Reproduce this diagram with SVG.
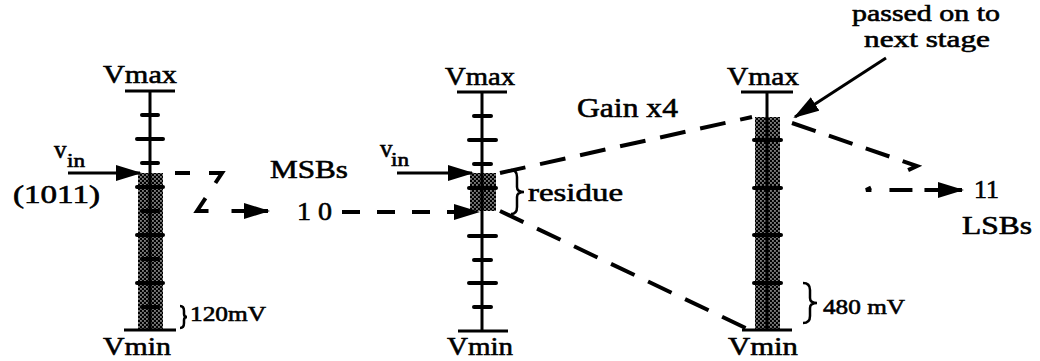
<svg xmlns="http://www.w3.org/2000/svg" width="1040" height="361" viewBox="0 0 1040 361">
<defs>
<pattern id="stip" width="4" height="4" patternUnits="userSpaceOnUse">
<rect width="4" height="4" fill="#000"/>
<rect x="0.3" y="0.3" width="1.3" height="1.3" fill="#fff"/>
<rect x="2.3" y="2.3" width="1.3" height="1.3" fill="#fff"/>
</pattern>
<marker id="ah" viewBox="0 0 26 16" refX="24" refY="8" markerWidth="26" markerHeight="16" markerUnits="userSpaceOnUse" orient="auto"><path d="M0,0 L26,8 L0,16 Z" fill="#000"/></marker>
</defs>
<style>
.ax{stroke:#000;stroke-width:3;fill:none}
.tk{stroke:#000;stroke-width:4;stroke-linecap:round}
.bar{stroke:#000;stroke-width:3}
.t{font-family:"Liberation Serif","Times New Roman",serif;fill:#000;stroke:#000;stroke-width:0.6;font-size:26px}
.dash{stroke:#000;stroke-width:4;fill:none}
.arr{stroke:#000;stroke-width:3;fill:none}
.br{stroke:#000;stroke-width:2.5;fill:none}
</style>
<rect width="1040" height="361" fill="#fff"/>

<g id="scale1">
<rect x="138" y="173" width="25" height="157" fill="url(#stip)"/>
<line class="ax" x1="150" y1="91" x2="150" y2="330"/>
<line class="bar" x1="125" y1="91" x2="175" y2="91"/>
<line class="bar" x1="124" y1="330" x2="176" y2="330"/>
<line class="tk" x1="142" y1="115" x2="158" y2="115"/>
<line class="tk" x1="137" y1="139" x2="163" y2="139"/>
<line class="tk" x1="142" y1="163" x2="158" y2="163"/>
<line class="tk" x1="137" y1="187" x2="163" y2="187"/>
<line class="tk" x1="142" y1="211" x2="158" y2="211"/>
<line class="tk" x1="137" y1="235" x2="163" y2="235"/>
<line class="tk" x1="142" y1="259" x2="158" y2="259"/>
<line class="tk" x1="137" y1="283" x2="163" y2="283"/>
<line class="tk" x1="142" y1="307" x2="158" y2="307"/>
<text class="t" x="103" y="83" textLength="74" lengthAdjust="spacingAndGlyphs">Vmax</text>
<text class="t" x="103" y="355" textLength="68" lengthAdjust="spacingAndGlyphs">Vmin</text>
<path class="br" d="M180,306 Q184,306 184,311 L184,314 Q184,317 187,317 Q184,317 184,320 L184,323 Q184,328 180,328"/>
<text class="t" x="190" y="321" style="font-size:21px" textLength="76" lengthAdjust="spacingAndGlyphs">120mV</text>
</g>

<g id="input1">
<line class="arr" x1="68" y1="173" x2="140" y2="173" marker-end="url(#ah)"/>
<text class="t" x="54" y="158" style="font-size:25px">v</text>
<text class="t" x="67" y="167" style="font-size:19px" textLength="18" lengthAdjust="spacingAndGlyphs">in</text>
<text class="t" x="13" y="203" textLength="87" lengthAdjust="spacingAndGlyphs">(1011)</text>
</g>

<g id="msbs">
<text class="t" x="270" y="178" textLength="78" lengthAdjust="spacingAndGlyphs">MSBs</text>
<text class="t" x="297" y="220" textLength="35" lengthAdjust="spacingAndGlyphs">1 0</text>
</g>

<g id="scale2">
<rect x="470" y="173" width="26" height="38" fill="url(#stip)"/>
<line class="ax" x1="482" y1="92" x2="482" y2="331"/>
<line class="bar" x1="457" y1="92" x2="507" y2="92"/>
<line class="bar" x1="458" y1="331" x2="508" y2="331"/>
<line class="tk" x1="474" y1="116" x2="491" y2="116"/>
<line class="tk" x1="469" y1="140" x2="496" y2="140"/>
<line class="tk" x1="474" y1="164" x2="491" y2="164"/>
<line class="tk" x1="469" y1="188" x2="496" y2="188"/>
<line class="tk" x1="469" y1="236" x2="496" y2="236"/>
<line class="tk" x1="474" y1="260" x2="491" y2="260"/>
<line class="tk" x1="469" y1="283" x2="496" y2="283"/>
<line class="tk" x1="474" y1="307" x2="491" y2="307"/>
<text class="t" x="445" y="85" textLength="70" lengthAdjust="spacingAndGlyphs">Vmax</text>
<text class="t" x="447" y="355" textLength="66" lengthAdjust="spacingAndGlyphs">Vmin</text>
<path class="br" d="M511,170 Q517,170 517,177 L517,187 Q517,192 524,192 Q517,192 517,197 L517,207 Q517,214 511,214"/>
<text class="t" x="528" y="201" textLength="95" lengthAdjust="spacingAndGlyphs">residue</text>
</g>

<g id="input2">
<line class="arr" x1="397" y1="173" x2="472" y2="173" marker-end="url(#ah)"/>
<text class="t" x="380" y="157" style="font-size:25px">v</text>
<text class="t" x="391" y="166" style="font-size:19px" textLength="18" lengthAdjust="spacingAndGlyphs">in</text>
</g>

<g id="scale3">
<rect x="755" y="117" width="25" height="213" fill="url(#stip)"/>
<line class="ax" x1="767" y1="92" x2="767" y2="330"/>
<line class="bar" x1="741" y1="92" x2="793" y2="92"/>
<line class="bar" x1="742" y1="330" x2="792" y2="330"/>
<line class="tk" x1="754" y1="140" x2="781" y2="140"/>
<line class="tk" x1="754" y1="188" x2="781" y2="188"/>
<line class="tk" x1="754" y1="235" x2="781" y2="235"/>
<line class="tk" x1="754" y1="283" x2="781" y2="283"/>
<text class="t" x="727" y="85" textLength="72" lengthAdjust="spacingAndGlyphs">Vmax</text>
<text class="t" x="728" y="355" textLength="70" lengthAdjust="spacingAndGlyphs">Vmin</text>
<path class="br" d="M803,283 Q810,283 810,290 L810,298 Q810,303 817,303 Q810,303 810,308 L810,316 Q810,323 803,323"/>
<text class="t" x="823" y="314" style="font-size:22px" textLength="82" lengthAdjust="spacingAndGlyphs">480 mV</text>
</g>

<g id="labels">
<text class="t" x="577" y="117" style="font-size:28px" textLength="101" lengthAdjust="spacingAndGlyphs">Gain x4</text>
<text class="t" x="852" y="21" style="font-size:24px" textLength="148" lengthAdjust="spacingAndGlyphs">passed on to</text>
<text class="t" x="864" y="47" style="font-size:24px" textLength="126" lengthAdjust="spacingAndGlyphs">next stage</text>
<text class="t" x="974" y="198" textLength="25" lengthAdjust="spacingAndGlyphs">11</text>
<text class="t" x="962" y="234" textLength="70" lengthAdjust="spacingAndGlyphs">LSBs</text>
</g>

<g id="connectors">
<path class="dash" d="M175,173 H222 L197,211 H268" stroke-dasharray="15 19 25 18 27 23 60" marker-end="url(#ah)"/>
<path class="dash" d="M342,212 H478" stroke-dasharray="18 17" marker-end="url(#ah)"/>
<path class="dash" d="M500,173 L752,117" stroke-dasharray="26 15"/>
<path class="dash" d="M500,211 L752,331" stroke-dasharray="26 15"/>
<path class="dash" d="M792,123 L917,166 L866,190 H962" stroke-dasharray="25 14 25 14 25 14 25 41 11 18 23 12 40" marker-end="url(#ah)"/>
<line class="arr" x1="886" y1="58" x2="795" y2="117" marker-end="url(#ah)"/>
</g>
</svg>
